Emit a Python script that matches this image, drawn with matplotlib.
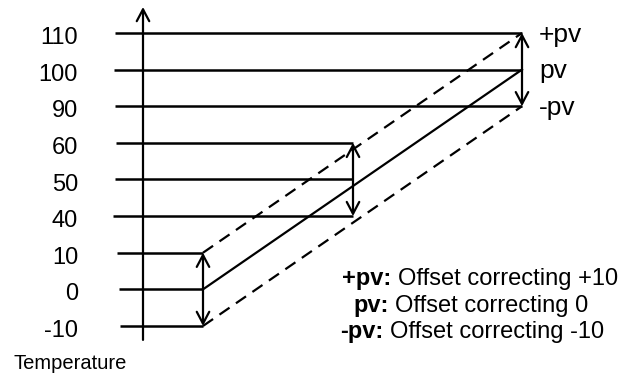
import matplotlib
matplotlib.use("Agg")
import matplotlib.pyplot as plt

plt.rcParams['font.family'] = ['Liberation Sans', 'DejaVu Sans']

# Temperature levels shown on the left (top to bottom)
levels = [110, 100, 90, 60, 50, 40, 10, 0, -10]
# three groups of lines: (+pv, pv, -pv) rows, and where each group ends
group_rows = [[6, 7, 8], [3, 4, 5], [0, 1, 2]]
group_x = [203, 353, 522]
side_labels = ["+pv", "pv", "-pv"]
legend_keys = ["+pv:", "pv:", "-pv:"]
legend_texts = ["Offset correcting +10", "Offset correcting 0", "Offset correcting -10"]

fig = plt.figure(figsize=(6.22, 3.76), dpi=100)
ax = fig.add_axes([0, 0, 1, 1])
ax.set_xlim(0, 622)
ax.set_ylim(9.366, -0.901)
ax.axis("off")

arrow_kw = dict(lw=1.6, color="black", shrinkA=0, shrinkB=0, mutation_scale=10)

# vertical axis with arrow
ax.annotate("", xy=(143, -0.71), xytext=(143, 8.38),
            arrowprops=dict(arrowstyle="->,head_length=0.85,head_width=0.45", **arrow_kw))

# horizontal level lines
line_start = [115, 114, 115, 116, 115, 113, 117, 119, 120]
for rows, xe in zip(group_rows, group_x):
    for r in rows:
        ax.plot([line_start[r], xe], [r, r], color="black", lw=1.8, solid_capstyle="butt")

# level labels
for i, lv in enumerate(levels):
    ax.text(78, i + 0.14, str(lv), ha="right", va="center", fontsize=17)

# diagonals: +pv (dashed), pv (solid), -pv (dashed)
styles = [(0, (5.5, 3.5)), "-", (0, (5.5, 3.5))]
for k in range(3):
    ax.plot([group_x[0], group_x[-1]], [group_rows[0][k], group_rows[-1][k]],
            color="black", lw=1.6, linestyle=styles[k])

# double-headed arrows at each group
for rows, xe in zip(group_rows, group_x):
    ax.annotate("", xy=(xe, rows[0]), xytext=(xe, rows[2]),
                arrowprops=dict(arrowstyle="<->,head_length=0.85,head_width=0.45", **arrow_kw))

# labels at the right
for r, lab in zip(group_rows[-1], side_labels):
    ax.text(539, r + 0.05, lab, ha="left", va="center", fontsize=19)

# explanation block
leg_x = [342, 353, 340]
leg_y = [6.7, 7.45, 8.15]
for x, y, key, txt in zip(leg_x, leg_y, legend_keys, legend_texts):
    t = ax.text(x, y, key, ha="left", va="center", fontsize=17, fontweight="bold")
    ax.annotate(txt, xy=(1, 0), xycoords=t, xytext=(5, 0), textcoords="offset points",
                ha="left", va="bottom", fontsize=17)

ax.text(13, 9.17, "Temperature", ha="left", va="baseline", fontsize=14.5)

fig.savefig("out.png", dpi=100)
